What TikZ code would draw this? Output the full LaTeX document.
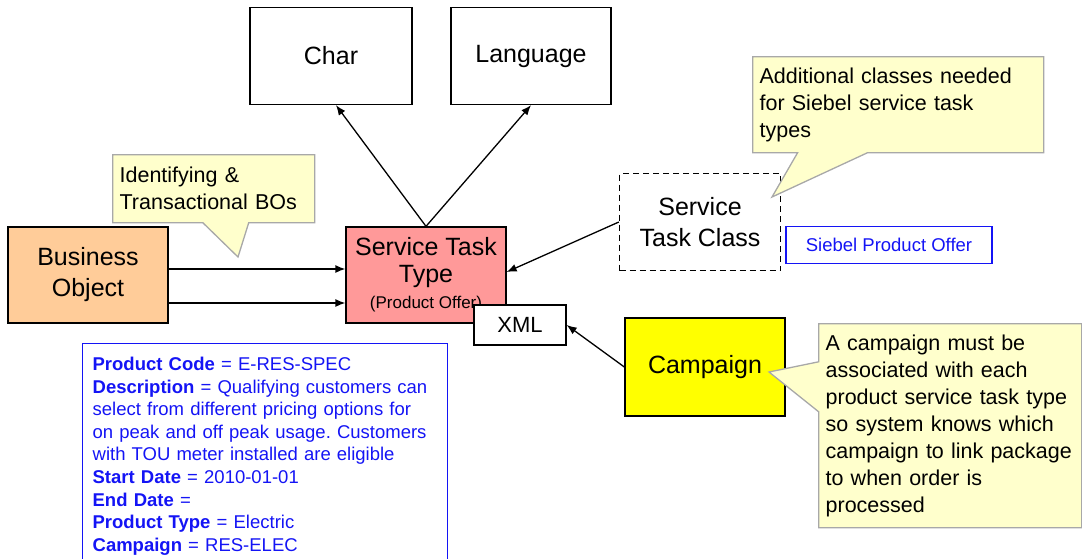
\documentclass[tikz,border=0pt]{standalone}
\usepackage{fontspec}
\setmainfont{Liberation Sans}
\usetikzlibrary{arrows.meta,shapes.callouts}
\definecolor{boorange}{HTML}{FFCC99}
\definecolor{sttpink}{HTML}{FF9999}
\definecolor{campyellow}{HTML}{FFFF00}
\definecolor{noteyellow}{HTML}{FFFFCC}
\definecolor{notegray}{HTML}{A8A8A8}
\definecolor{offerblue}{HTML}{1414F5}
\frenchspacing
\begin{document}
\begin{tikzpicture}[x=1pt,y=-1pt,>={Latex[length=10pt,width=8pt]},
	box/.style={draw,line width=1.3pt,align=center,inner sep=0pt,font=\fontsize{25}{31}\selectfont},
	note/.style={rectangle callout,draw=notegray,fill=noteyellow,line width=1.3pt,anchor=north west,
		align=left,inner xsep=7pt,inner ysep=4pt,font=\fontsize{21.5}{27}\selectfont},
	bluebox/.style={draw=offerblue,text=offerblue,line width=1.3pt},
	link/.style={->,line width=1.3pt}]
	\useasboundingbox (0,0) rectangle (1082,558);
	% classes
	\node[box,minimum width=162,minimum height=97] (char) at (331,56) {Char};
	\node[box,minimum width=160,minimum height=97] (lang) at (531,56) {Language};
	\node[box,fill=boorange,minimum width=160,minimum height=96] (bo) at (88,275) {Business\\Object};
	\node[box,fill=sttpink,minimum width=160,minimum height=96] (stt) at (426,275)
		{Service Task\\[-4pt]Type\\[-5pt]{\fontsize{17}{19}\selectfont (Product Offer)}};
	\node[box,dash pattern=on 6pt off 4pt,minimum width=161,minimum height=97] (stc) at (700,222) {Service\\Task Class};
	\node[box,fill=campyellow,minimum width=160,minimum height=98] (camp) at (705,367) {Campaign};
	\node[box,fill=white,minimum width=92,minimum height=40,font=\fontsize{22}{26}\selectfont] (xml) at (520,325) {XML};
	\node[bluebox,minimum width=206,minimum height=37,font=\fontsize{18.5}{22}\selectfont] (sbo) at (889,245) {Siebel Product Offer};
	% attributes
	\node[bluebox,anchor=north west,align=left,text width=345pt,inner xsep=10pt,inner ysep=8pt,
		minimum height=225,font=\fontsize{18.5}{22.6}\selectfont] (attr) at (82,343)
		{\textbf{Product Code} = E-RES-SPEC\\
		\textbf{Description} = Qualifying customers can\\
		select from different pricing options for\\
		on peak and off peak usage. Customers\\
		with TOU meter installed are eligible\\
		\textbf{Start Date} = 2010-01-01\\
		\textbf{End Date} =\\
		\textbf{Product Type} = Electric\\
		\textbf{Campaign} = RES-ELEC};
	% notes
	\coordinate (tipbo) at (238,257);
	\coordinate (tipstc) at (772,197);
	\coordinate (tipcamp) at (769,372);
	\node[note,text width=188pt,minimum height=68,callout absolute pointer=(tipbo),callout pointer width=46pt] (nbo) at (112,154)
		{Identifying \&\\Transactional BOs};
	\node[note,text width=277pt,minimum height=96,callout absolute pointer=(tipstc),callout pointer width=70pt] (nstc) at (752,56)
		{Additional classes needed\\for Siebel service task\\types};
	\node[note,text width=249pt,minimum height=204,callout absolute pointer=(tipcamp),callout pointer width=50pt] (ncamp) at (818,323)
		{A campaign must be\\associated with each\\product service task type\\so system knows which\\campaign to link package\\to when order is\\processed};
	% connectors
	\draw[link] ([yshift=6]bo.east) -- ([yshift=6]stt.west);
	\draw[link] ([yshift=-28]bo.east) -- ([yshift=-28]stt.west);
	\draw[link] (stt.north) -- ([xshift=5]char.south);
	\draw[link] (stt.north) -- (lang.south);
	\draw[link] (stc.west) -- ([yshift=3]stt.east);
	\draw[link] (camp.west) -- (xml.east);
\end{tikzpicture}
\end{document}
